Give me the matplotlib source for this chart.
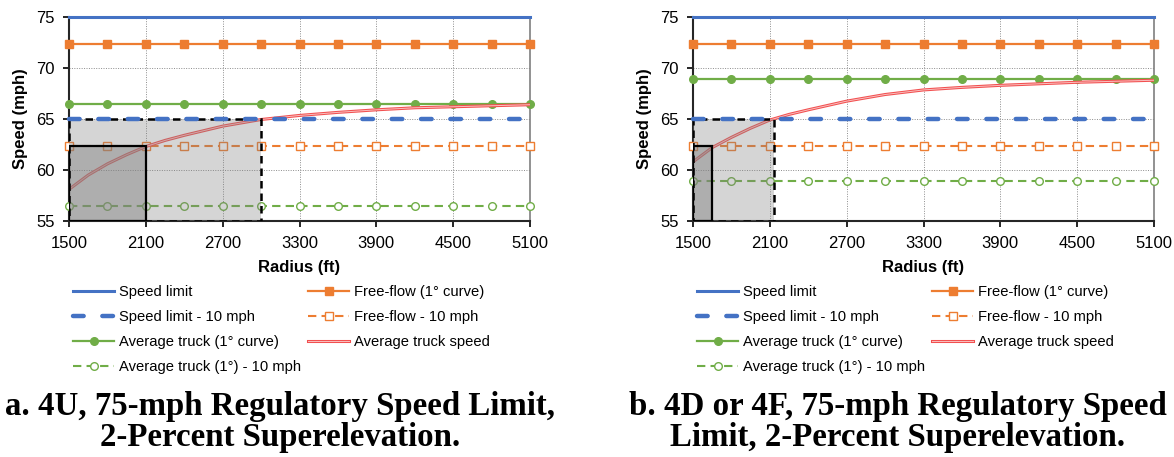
import matplotlib
matplotlib.use("Agg")
import matplotlib.pyplot as plt
import matplotlib.patheffects as pe
from matplotlib.patches import Rectangle

# ---------- DATA ----------
radius = [1500, 1800, 2100, 2400, 2700, 3000, 3300, 3600, 3900, 4200, 4500, 4800, 5100]
x_ticks = [1500, 2100, 2700, 3300, 3900, 4500, 5100]
y_ticks = [55, 60, 65, 70, 75]

speed_limit = 75
speed_limit_10 = 65
free_flow = 72.4
free_flow_10 = 62.4

# panel a: 4U
truck_a = 66.5
truck_a_10 = 56.5
curve_r_a = [1500, 1650, 1800, 1950, 2100, 2250, 2400, 2700, 3000, 3300, 3600, 3900, 4200, 4500, 4800, 5100]
curve_v_a = [58.1, 59.5, 60.6, 61.5, 62.3, 62.9, 63.4, 64.3, 64.95, 65.35, 65.65, 65.9, 66.1, 66.2, 66.3, 66.4]
box_light_a = (3000, 65)
box_dark_a = (2100, 62.4)

# panel b: 4D or 4F
truck_b = 68.9
truck_b_10 = 58.9
curve_r_b = [1500, 1650, 1800, 1950, 2100, 2250, 2400, 2700, 3000, 3300, 3600, 3900, 4200, 4500, 4800, 5100]
curve_v_b = [60.8, 62.2, 63.2, 64.1, 64.9, 65.45, 65.9, 66.75, 67.4, 67.85, 68.1, 68.3, 68.45, 68.6, 68.7, 68.8]
box_light_b = (2130, 65)
box_dark_b = (1650, 62.4)

captions = ["a. 4U, 75-mph Regulatory Speed Limit,\n2-Percent Superelevation.",
            "b. 4D or 4F, 75-mph Regulatory Speed\nLimit, 2-Percent Superelevation."]

# ---------- STYLE ----------
BLUE = "#4472C4"
ORANGE = "#ED7D31"
GREEN = "#70AD47"
plt.rcParams["font.family"] = ["Liberation Sans", "DejaVu Sans"]
plt.rcParams["font.size"] = 10


def draw_panel(ax, truck, truck_10, curve_r, curve_v, box_light, box_dark):
    n = len(radius)
    ax.set_xlim(1500, 5100)
    ax.set_ylim(55, 75)

    # shaded boxes
    ax.add_patch(Rectangle((1500, 55), box_light[0] - 1500, box_light[1] - 55,
                           facecolor="#808080", alpha=0.33, edgecolor="none", zorder=6))
    ax.add_patch(Rectangle((1500, 55), box_light[0] - 1500, box_light[1] - 55,
                           facecolor="none", edgecolor="black", lw=1.8, ls=(0, (3, 2)), zorder=7))
    ax.add_patch(Rectangle((1500, 55), box_dark[0] - 1500, box_dark[1] - 55,
                           facecolor="#808080", alpha=0.45, edgecolor="none", zorder=6))
    ax.add_patch(Rectangle((1500, 55), box_dark[0] - 1500, box_dark[1] - 55,
                           facecolor="none", edgecolor="black", lw=1.6, zorder=7))

    h = {}
    h["sl"], = ax.plot(radius, [speed_limit] * n, color=BLUE, lw=2.2, zorder=4, clip_on=False,
                       label="Speed limit")
    h["ff"], = ax.plot(radius, [free_flow] * n, color=ORANGE, lw=1.6, marker="s", ms=5.5,
                       zorder=4, clip_on=False, label="Free-flow (1° curve)")
    h["sl10"], = ax.plot(radius, [speed_limit_10] * n, color=BLUE, lw=3.2, ls=(0, (2.4, 4.2)),
                         dash_capstyle="round", zorder=8, clip_on=False,
                         label="Speed limit - 10 mph")
    h["ff10"], = ax.plot(radius, [free_flow_10] * n, color=ORANGE, lw=1.5, ls=(0, (4, 2.5)),
                         marker="s", ms=5.5, mfc="white", zorder=4, clip_on=False,
                         label="Free-flow - 10 mph")
    h["tr"], = ax.plot(radius, [truck] * n, color=GREEN, lw=1.6, marker="o", ms=5.5,
                       zorder=4, clip_on=False, label="Average truck (1° curve)")
    h["cv"], = ax.plot(curve_r, curve_v, color="#F9C0C0", lw=0.7, zorder=5,
                       path_effects=[pe.Stroke(linewidth=2.2, foreground="#F25050"), pe.Normal()],
                       label="Average truck speed")
    h["tr10"], = ax.plot(radius, [truck_10] * n, color=GREEN, lw=1.5, ls=(0, (4, 2.5)),
                         marker="o", ms=5.5, mfc="white", zorder=4, clip_on=False,
                         label="Average truck (1°) - 10 mph")

    ax.set_xticks(x_ticks)
    ax.set_yticks(y_ticks)
    ax.grid(True, color="#8c8c8c", ls=(0, (1, 1.5)), lw=0.7, zorder=0)
    ax.set_axisbelow(True)
    ax.tick_params(axis="x", length=4, width=1.2, pad=7, labelsize=12)
    ax.tick_params(axis="y", length=4, width=1.2, pad=6, labelsize=12)
    for s in ["left", "bottom"]:
        ax.spines[s].set_linewidth(1.5)
        ax.spines[s].set_color("#262626")
    ax.spines["top"].set_visible(False)
    ax.spines["right"].set_color("#7f7f7f")
    ax.spines["right"].set_linewidth(1.2)

    ax.set_xlabel("Radius (ft)", fontweight="bold", fontsize=12, labelpad=6)
    ax.set_ylabel("Speed (mph)", fontweight="bold", fontsize=12, labelpad=6)

    order = ["sl", "sl10", "tr", "tr10", "ff", "ff10", "cv"]
    return [h[k] for k in order]


# ---------- PLOTTING ----------
fig = plt.figure(figsize=(11.74, 4.57), dpi=100)
W, H = 1174, 457

panels = [
    (69, 280, truck_a, truck_a_10, curve_r_a, curve_v_a, box_light_a, box_dark_a),
    (693, 898, truck_b, truck_b_10, curve_r_b, curve_v_b, box_light_b, box_dark_b),
]

for i, (x0, xc, tr, tr10, cr, cv, bl, bd) in enumerate(panels):
    ax = fig.add_axes([x0 / W, (H - 221) / H, 461 / W, 204 / H])
    handles = draw_panel(ax, tr, tr10, cr, cv, bl, bd)
    fig.legend(handles=handles, ncol=2, loc="upper left",
               bbox_to_anchor=((x0 + 4) / W, 1 - 285 / H), frameon=False,
               borderpad=0, borderaxespad=0, handlelength=2.8, handletextpad=0.3,
               columnspacing=0.5, labelspacing=0.74, fontsize=10.6)
    fig.text(xc / W, 1 - 422 / H, captions[i], ha="center", va="center",
             family="Liberation Serif", fontweight="bold", fontsize=23.7, linespacing=1.02)

fig.savefig("out.png", dpi=100)
